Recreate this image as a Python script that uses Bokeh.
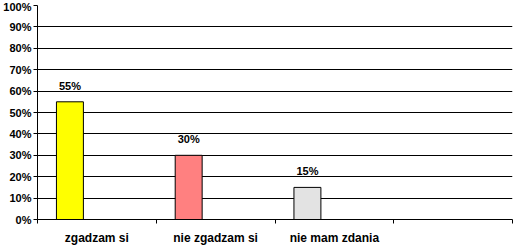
from bokeh.plotting import figure
from bokeh.models import ColumnDataSource, Range1d, FixedTicker, LinearAxis, Grid
from bokeh.core.properties import value
from bokeh.embed import file_html
from bokeh.resources import INLINE

categories = ["zgadzam si", "nie zgadzam si", "nie mam zdania", ""]
values = [55, 30, 15]
labels = ["55%", "30%", "15%"]
colors = ["#FFFF00", "#FF8080", "#E3E3E3"]
y_ticks = [0, 10, 20, 30, 40, 50, 60, 70, 80, 90, 100]

FONT = "Liberation Sans"
bar_offset = 0.273
bar_width = 0.227

xs = [i + bar_offset for i in range(len(values))]
src = ColumnDataSource(dict(x=xs, top=values, label=labels, color=colors))

p = figure(width=513, height=247, output_backend="svg", toolbar_location=None,
           x_range=Range1d(0, len(categories)), y_range=Range1d(0, 100),
           x_axis_type=None, y_axis_type=None,
           min_border_left=37, min_border_right=1, min_border_top=5, min_border_bottom=27)
p.outline_line_color = None
p.background_fill_color = "white"
p.border_fill_color = "white"

yaxis = LinearAxis(ticker=FixedTicker(ticks=y_ticks))
yaxis.major_label_overrides = {t: f"{t}%" for t in y_ticks}
yaxis.major_label_text_font = FONT
yaxis.major_label_text_font_style = "bold"
yaxis.major_label_text_font_size = "11px"
yaxis.major_label_text_color = "black"
yaxis.major_tick_out = 4
yaxis.major_tick_in = 0
yaxis.minor_tick_line_color = None
yaxis.major_label_standoff = 2
yaxis.axis_line_color = "black"
yaxis.major_tick_line_color = "black"
p.add_layout(yaxis, "left")

centers = [i + 0.5 for i in range(len(categories))]
bounds = [i for i in range(len(categories) + 1)]
xaxis = LinearAxis(ticker=FixedTicker(ticks=centers, minor_ticks=bounds))
xaxis.major_label_overrides = {c: cat for c, cat in zip(centers, categories)}
xaxis.major_label_text_font = FONT
xaxis.major_label_text_font_style = "bold"
xaxis.major_label_text_font_size = "12px"
xaxis.major_label_text_color = "black"
xaxis.major_tick_line_color = None
xaxis.major_tick_out = 0
xaxis.major_tick_in = 0
xaxis.minor_tick_out = 4
xaxis.minor_tick_in = 0
xaxis.minor_tick_line_color = "black"
xaxis.major_label_standoff = 7
xaxis.axis_line_color = "black"
p.add_layout(xaxis, "below")

grid = Grid(dimension=1, ticker=FixedTicker(ticks=y_ticks))
grid.grid_line_color = "black"
grid.grid_line_width = 1
p.add_layout(grid)

p.vbar(x="x", top="top", width=bar_width, bottom=0, source=src,
       fill_color="color", line_color="black", line_width=1)
p.text(x="x", y="top", text="label", source=src, text_align="center",
       text_baseline="bottom", y_offset=-10, text_font=value(FONT),
       text_font_style="bold", text_font_size="11px", text_color="black")

open("out.html", "w").write(file_html(p, INLINE))
